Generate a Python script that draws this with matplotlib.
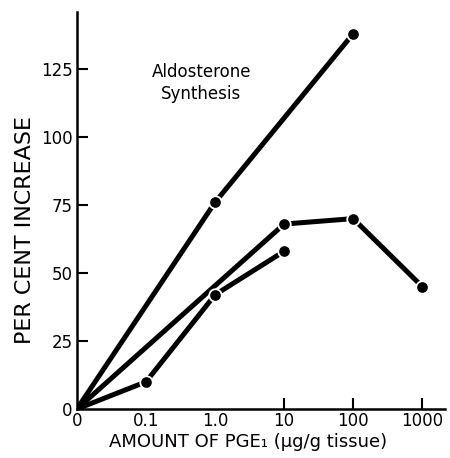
import matplotlib
matplotlib.use("Agg")
import matplotlib.pyplot as plt

# categorical x positions (log-like spacing in the figure)
xlabels = ["0", "0.1", "1.0", "10", "100", "1000"]

# three curves: (x index, per cent increase)
topX = [0, 2, 4]
topY = [0, 76, 138]
midX = [0, 3, 4, 5]
midY = [0, 68, 70, 45]
lowX = [0, 1, 2, 3]
lowY = [0, 10, 42, 58]

plt.rcParams['font.family'] = ['DejaVu Sans']

fig = plt.figure(figsize=(4.5, 4.58), dpi=100)
ax = fig.add_axes([0.171, 0.107, 0.818, 0.867])

for xs, ys in [(topX, topY), (midX, midY), (lowX, lowY)]:
    ax.plot(xs, ys, '-', color='black', linewidth=3.6, solid_capstyle='butt', zorder=2)
    # markers with a white rim to mimic the gaps at each point
    ax.plot(xs[1:], ys[1:], 'o', color='black', markersize=9,
            markeredgecolor='white', markeredgewidth=1.3, zorder=3)

ax.set_xlim(0, 5.33)
ax.set_ylim(0, 146)

ax.spines['top'].set_visible(False)
ax.spines['right'].set_visible(False)
ax.spines['left'].set_linewidth(1.8)
ax.spines['bottom'].set_linewidth(1.8)

ax.set_yticks([0, 25, 50, 75, 100, 125])
ax.set_yticklabels(["0", "25", "50", "75", "100", "125"], fontsize=12)
ax.set_xticks(range(6))
ax.set_xticklabels(xlabels, fontsize=12)
ax.tick_params(axis='y', direction='in', length=8, width=1.5, pad=3)
ax.tick_params(axis='x', direction='in', length=8, width=1.5, pad=2)
# no visible ticks at 0, 0.1 and 1.0
for i, t in enumerate(ax.xaxis.get_major_ticks()):
    if i < 3:
        t.tick1line.set_visible(False)
ax.yaxis.get_major_ticks()[0].tick1line.set_visible(False)

ax.set_ylabel("PER CENT INCREASE", fontsize=16)
ax.yaxis.set_label_coords(-0.115, 0.45)
ax.set_xlabel("AMOUNT OF PGE\u2081 (\u03bcg/g tissue)", fontsize=13)
ax.xaxis.set_label_coords(0.465, -0.06)

ax.text(1.8, 120, "Aldosterone\nSynthesis", fontsize=12, ha='center', va='center',
        linespacing=1.3)

fig.savefig("out.png", dpi=100)
